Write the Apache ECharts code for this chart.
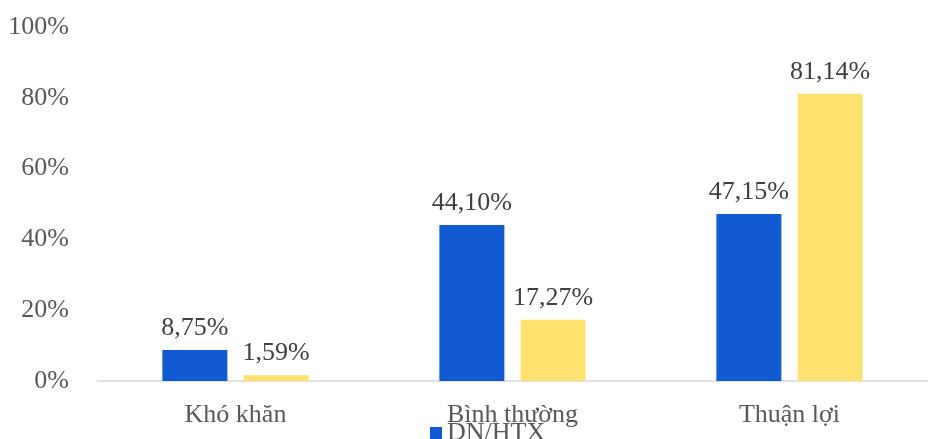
<!DOCTYPE html>
<html>
<head>
<meta charset="utf-8">
<script src="https://cdn.jsdelivr.net/npm/echarts@6/dist/echarts.min.js"></script>
<style>
  html, body { margin: 0; padding: 0; background: #fff; }
  #chart { width: 928px; height: 439px; }
</style>
</head>
<body>
<div id="chart"></div>
<script>
// Đánh giá mức độ thuận lợi (%)
const categories = ['Khó khăn', 'Bình thường', 'Thuận lợi'];
const seriesNames = ['DN/HTX', 'Hộ kinh doanh'];
const dnHtx = [8.75, 44.10, 47.15];
const hoKinhDoanh = [1.59, 17.27, 81.14];
const yTicks = [0, 20, 40, 60, 80, 100];

const FONT = '"Liberation Serif", "Times New Roman", serif';
const fmt = v => v.toFixed(2).replace('.', ',') + '%';

const chart = echarts.init(document.getElementById('chart'), null, { renderer: 'canvas' });

const barLabel = {
  show: true,
  position: 'top',
  distance: 9,
  fontFamily: FONT,
  fontSize: 26,
  color: '#404040',
  formatter: p => fmt(p.value)
};

chart.setOption({
  animation: false,
  backgroundColor: '#ffffff',
  grid: { left: 97, width: 846, top: 27, height: 354, containLabel: false },
  legend: {
    data: seriesNames,
    orient: 'horizontal',
    left: 430,
    top: 420,
    width: 120,
    padding: 0,
    icon: 'rect',
    itemWidth: 12,
    itemHeight: 12,
    itemGap: 10,
    textStyle: { fontFamily: FONT, fontSize: 26, color: '#595959' }
  },
  xAxis: {
    type: 'category',
    data: categories,
    axisLine: { show: true, lineStyle: { color: '#d9d9d9', width: 1.5 } },
    axisTick: { show: false },
    axisLabel: { margin: 21, fontFamily: FONT, fontSize: 26, color: '#595959' }
  },
  yAxis: {
    type: 'value',
    min: yTicks[0],
    max: yTicks[yTicks.length - 1],
    interval: 20,
    axisLine: { show: false },
    axisTick: { show: false },
    splitLine: { show: false },
    axisLabel: {
      margin: 28,
      fontFamily: FONT,
      fontSize: 26,
      color: '#595959',
      formatter: v => v + '%'
    }
  },
  series: [
    {
      name: seriesNames[0],
      type: 'bar',
      data: dnHtx,
      barWidth: 65,
      barGap: '25%',
      itemStyle: { color: '#125AD1' },
      label: barLabel
    },
    {
      name: seriesNames[1],
      type: 'bar',
      data: hoKinhDoanh,
      barWidth: 65,
      itemStyle: { color: '#FFE16F' },
      label: barLabel
    }
  ]
});
</script>
</body>
</html>
